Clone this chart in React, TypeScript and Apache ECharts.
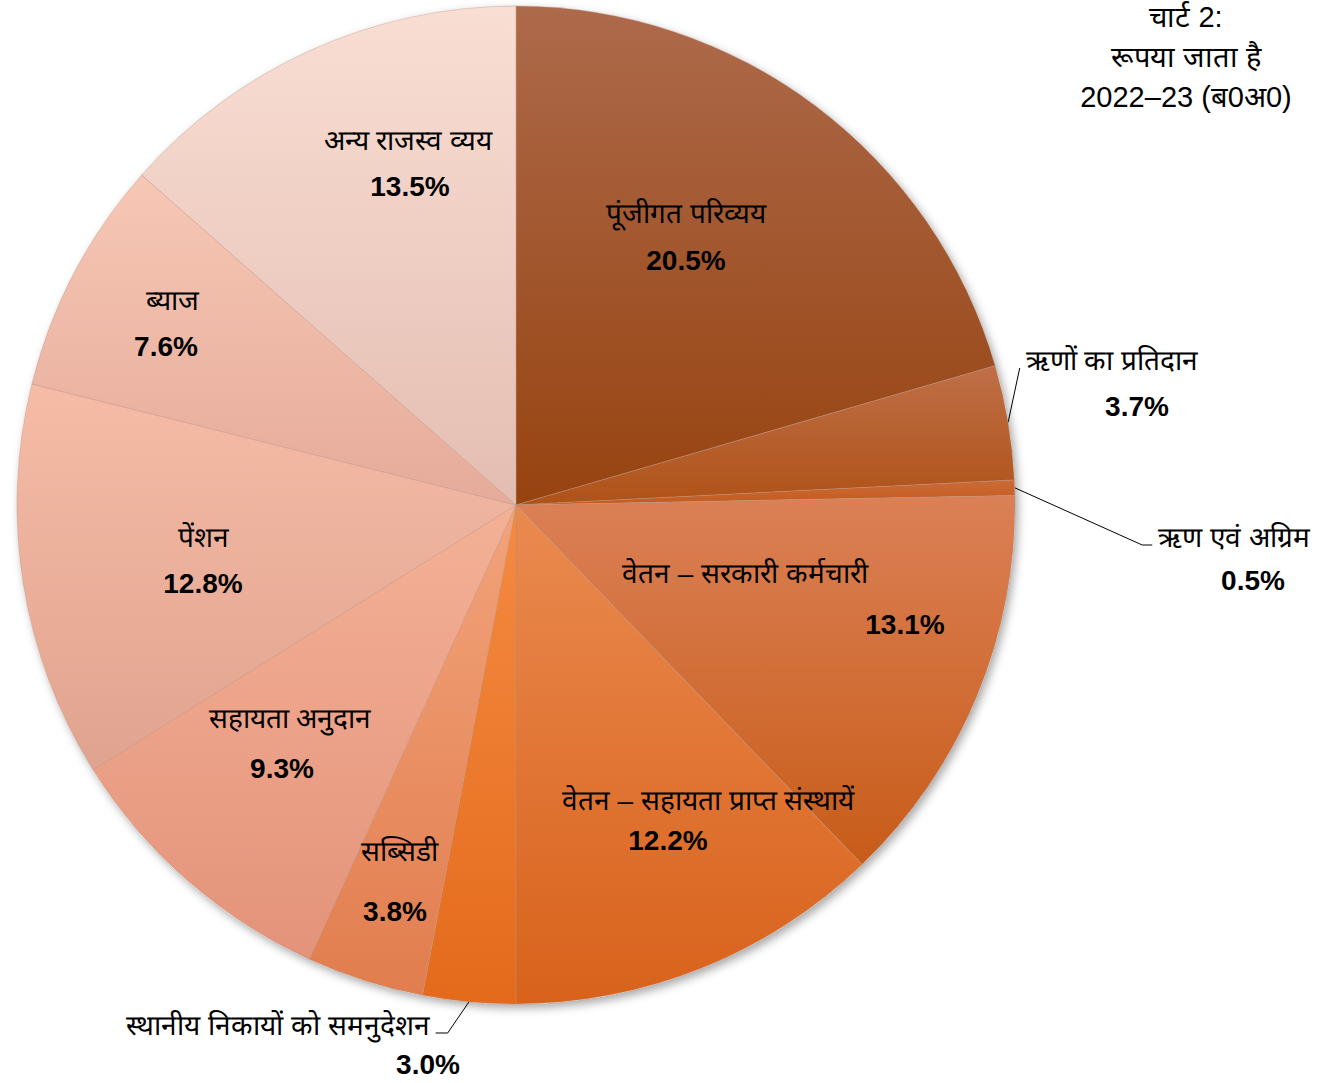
import React, { useEffect, useRef } from 'react';
import * as echarts from 'echarts';

// ---------- data ----------
const CATEGORIES = [
  'पूंजीगत परिव्यय',
  'ऋणों का प्रतिदान',
  'ऋण एवं अग्रिम',
  'वेतन – सरकारी कर्मचारी',
  'वेतन – सहायता प्राप्त संस्थायें',
  'स्थानीय निकायों को समनुदेशन',
  'सब्सिडी',
  'सहायता अनुदान',
  'पेंशन',
  'ब्याज',
  'अन्य राजस्व व्यय',
];
const VALUES = [20.5, 3.7, 0.5, 13.1, 12.2, 3.0, 3.8, 9.3, 12.8, 7.6, 13.5];
const TITLE_LINES = ['चार्ट 2:', 'रूपया जाता है', '2022–23 (ब0अ0)'];

// ---------- styles ----------
const COLORS_TOP = ['#AD6A4B', '#BF6F48', '#CC6B38', '#DB8056', '#EA8A50', '#F58B42', '#F3A37B', '#F4B196', '#F6BCA6', '#F7C7B5', '#F9DED4'];
const COLORS_BOTTOM = ['#974310', '#AF5217', '#C45A1C', '#C85C19', '#D8621B', '#E46A1B', '#E17D4E', '#E3937A', '#E0A38F', '#E6AB9A', '#E4BDB1'];

const FONT = '"Liberation Sans", Arial, sans-serif';
const NAME_SIZE = 28;
const VALUE_SIZE = 28;
const CX = 516;
const CY = 505;
const R = 499;

// label placement: [centerX, nameY, valueDx, lineGap]
const LABEL_POS = [
  [686, 213, 0, 49],
  [1112, 360, 25, 48],
  [1234, 537, 19, 45],
  [745, 573, 160, 53],
  [708, 800, -40, 42],
  [278, 1025, 150, 41],
  [399, 851, -4, 62],
  [290, 718, -8, 52],
  [203, 537, 0, 48],
  [172, 300, -6, 48],
  [408, 140, 2, 48],
];
// leader line side: 0 none, -1 anchor at name's left, 1 anchor at name's right
const LEADER = [0, -1, -1, 0, 0, 1, 0, 0, 0, 0, 0];
const LEADER_BEND = [0, 0, 10, 0, 0, 12, 0, 0, 0, 0, 0];

export default function App() {
  const ref = useRef<HTMLDivElement>(null);
  useEffect(() => {
    document.body.style.margin = '0';
    if (!ref.current) return;
    const chart = echarts.init(ref.current, null, { renderer: 'svg' });

    const ctx = document.createElement('canvas').getContext('2d')!;
    ctx.font = `${NAME_SIZE}px ${FONT}`;
    const nameW = CATEGORIES.map((c) => ctx.measureText(c).width);

    const total = VALUES.reduce((a, b) => a + b, 0);
    const cum: number[] = [];
    VALUES.reduce((acc, v, i) => { cum[i] = acc; return acc + v; }, 0);

    const rich: any = {
      n: { fontSize: NAME_SIZE, fontFamily: FONT, color: '#000', lineHeight: 40 },
    };
    LABEL_POS.forEach((p, i) => {
      const dx = p[2];
      const gap = p[3];
      rich['v' + i] = {
        fontSize: VALUE_SIZE,
        fontWeight: 'bold',
        fontFamily: FONT,
        color: '#000',
        padding: [Math.max(0, gap - 36), dx < 0 ? -2 * dx : 0, 0, dx > 0 ? 2 * dx : 0],
      };
    });

    const data = CATEGORIES.map((name, i) => ({
      name,
      value: VALUES[i],
      itemStyle: {
        color: new echarts.graphic.LinearGradient(0, 0, 0, 1, [
          { offset: 0, color: COLORS_TOP[i] },
          { offset: 1, color: COLORS_BOTTOM[i] },
        ]),
      },
      label: { position: LEADER[i] ? 'outside' : 'inside' },
      labelLine: { show: !!LEADER[i] },
    }));

    chart.setOption({
      animation: false,
      title: {
        text: TITLE_LINES.join('\n'),
        left: 1186,
        top: -3,
        padding: 0,
        textAlign: 'center',
        textVerticalAlign: 'top',
        textStyle: { fontSize: 29, fontWeight: 'normal', fontFamily: FONT, color: '#000', lineHeight: 40 },
      },
      series: [
        {
          type: 'pie',
          silent: true,
          z: 1,
          center: [CX, CY],
          radius: R,
          data: [{ value: total, name: '' }],
          itemStyle: {
            color: '#ffffff',
            shadowBlur: 10,
            shadowOffsetX: 3,
            shadowOffsetY: 4,
            shadowColor: 'rgba(0,0,0,0.35)',
          },
          label: { show: false },
          labelLine: { show: false },
        },
        {
          type: 'pie',
          z: 2,
          center: [CX, CY],
          radius: R,
          startAngle: 90,
          clockwise: true,
          avoidLabelOverlap: false,
          data,
          itemStyle: { borderColor: 'rgba(185,145,125,0.6)', borderWidth: 0.7 },
          label: {
            show: true,
            color: '#000',
            fontFamily: FONT,
            formatter: (p: any) => `{n|${p.name}}\n{v${p.dataIndex}|${Number(p.value).toFixed(1)}%}`,
            rich,
          },
          labelLine: { lineStyle: { color: '#000', width: 1 }, length: 10, length2: 10 },
          labelLayout: (params: any) => {
            const i = params.dataIndex;
            const p = LABEL_POS[i];
            const out: any = { x: p[0], y: p[1] - 20, align: 'center', verticalAlign: 'top' };
            if (LEADER[i]) {
              const theta = (2 * Math.PI * (cum[i] + VALUES[i] / 2)) / total;
              const p0 = [CX + R * Math.sin(theta), CY - R * Math.cos(theta)];
              const side = LEADER[i];
              const ex = p[0] + side * (nameW[i] / 2 + 6);
              const ey = p[1] + 8;
              const bx = ex + side * LEADER_BEND[i];
              out.labelLinePoints = [p0, [bx, ey], [ex, ey]];
            }
            return out;
          },
        },
      ],
    });
    return () => chart.dispose();
  }, []);
  return <div ref={ref} style={{ width: 1323, height: 1083 }} />;
}
